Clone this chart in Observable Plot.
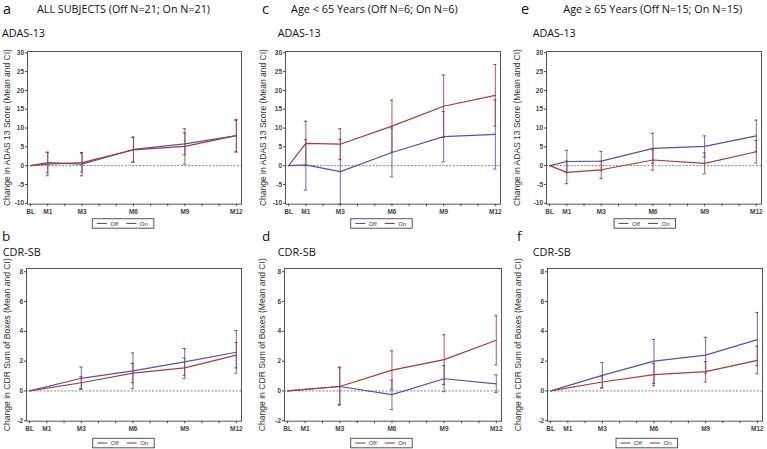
<!DOCTYPE html>
<html><head><meta charset="utf-8">
<script src="https://cdn.jsdelivr.net/npm/d3@7"></script>
<script src="https://cdn.jsdelivr.net/npm/@observablehq/plot@0.6"></script>
<style>
html,body{margin:0;padding:0;background:#fff;}
#root{position:relative;width:767px;height:449px;overflow:hidden;background:#fff;}
</style></head><body><div id="root"></div>
<script>
// ---------- data ----------
const monthTicks = [0,1,2,3,4,5,6,7,8,9,10,11,12];
const visitMonths = [0,1,3,6,9,12];
const visitLabels = ["BL","M1","M3","M6","M9","M12"];
const seriesNames = ["Off","On"];
const seriesColors = ["#5252aa","#a63b3b"];
const adasTicks = [-10,-5,0,5,10,15,20,25,30];
const cdrTicks = [-2,0,2,4,6,8];

const panelLetters = ["a","c","e","b","d","f"];
const groupTitles = ["ALL SUBJECTS (Off N=21; On N=21)","Age < 65 Years (Off N=6; On N=6)","Age \u2265 65 Years (Off N=15; On N=15)"];
const measureTitles = ["ADAS-13","CDR-SB"];
const yLabels = ["Change in ADAS 13 Score (Mean and CI)","Change in CDR Sum of Boxes (Mean and CI)"];

// (a) ADAS-13, all subjects
const aOffMean = [0, 0.8, 0.4, 4.3, 5.8, 8.0];
const aOffLo   = [null, -1.9, -2.7, 1.0, 2.9, 3.7];
const aOffHi   = [null, 3.5, 3.5, 7.6, 8.7, 12.3];
const aOnMean  = [0, 0.4, 0.8, 4.2, 5.1, 8.0];
const aOnLo    = [null, -2.7, -1.7, 0.9, 0.4, 3.6];
const aOnHi    = [null, 3.6, 3.3, 7.5, 9.8, 12.0];
// (c) ADAS-13, age < 65
const cOffMean = [0, 0.2, -1.6, 3.5, 7.7, 8.3];
const cOffLo   = [null, -6.5, -10.2, -3.0, 1.0, -0.9];
const cOffHi   = [null, 6.9, 7.0, 10.0, 14.4, 17.5];
const cOnMean  = [0, 5.9, 5.7, 10.5, 15.8, 18.7];
const cOnLo    = [null, 0.0, 1.6, 3.6, 7.5, 10.5];
const cOnHi    = [null, 11.8, 9.8, 17.4, 24.1, 26.9];
// (e) ADAS-13, age >= 65
const eOffMean = [0, 1.1, 1.2, 4.6, 5.1, 7.9];
const eOffLo   = [null, -1.9, -1.4, 0.6, 2.3, 3.7];
const eOffHi   = [null, 4.1, 3.8, 8.6, 7.9, 12.1];
const eOnMean  = [0, -1.8, -1.1, 1.5, 0.6, 3.7];
const eOnLo    = [null, -4.8, -3.4, -1.2, -2.2, 0.7];
const eOnHi    = [null, 1.2, 1.2, 4.2, 3.4, 6.7];
// (b) CDR-SB, all subjects (no M1 visit)
const bOffMean = [0, null, 0.85, 1.35, 1.95, 2.6];
const bOffLo   = [null, null, 0.1, 0.15, 1.05, 1.2];
const bOffHi   = [null, null, 1.6, 2.55, 2.85, 4.05];
const bOnMean  = [0, null, 0.55, 1.2, 1.55, 2.4];
const bOnLo    = [null, null, 0.15, 0.55, 0.85, 1.55];
const bOnHi    = [null, null, 0.95, 1.85, 2.2, 3.25];
// (d) CDR-SB, age < 65
const dOffMean = [0, null, 0.3, -0.25, 0.82, 0.48];
const dOffLo   = [null, null, -0.9, -1.25, -0.05, -0.1];
const dOffHi   = [null, null, 1.55, 0.72, 1.7, 1.08];
const dOnMean  = [0, null, 0.3, 1.4, 2.1, 3.4];
const dOnLo    = [null, null, -0.95, 0.12, 0.43, 1.75];
const dOnHi    = [null, null, 1.6, 2.7, 3.77, 5.05];
// (f) CDR-SB, age >= 65
const fOffMean = [0, null, 1.05, 2.0, 2.4, 3.45];
const fOffLo   = [null, null, 0.2, 0.5, 1.2, 1.7];
const fOffHi   = [null, null, 1.9, 3.45, 3.6, 5.27];
const fOnMean  = [0, null, 0.6, 1.1, 1.3, 2.05];
const fOnLo    = [null, null, 0.2, 0.35, 0.6, 1.15];
const fOnHi    = [null, null, 1.0, 1.85, 1.97, 3.0];

// ---------- helpers ----------
function rowsOf(series, mean, lo, hi) {
  const out = [];
  visitMonths.forEach((m, i) => {
    if (mean[i] == null) return;
    out.push({m, v: mean[i], lo: lo[i], hi: hi[i], s: series});
  });
  return out;
}
const panels = [
  {data: [rowsOf("Off", aOffMean, aOffLo, aOffHi), rowsOf("On", aOnMean, aOnLo, aOnHi)], kind: 0, fx: [27, 241], fy: [51.3, 204]},
  {data: [rowsOf("Off", cOffMean, cOffLo, cOffHi), rowsOf("On", cOnMean, cOnLo, cOnHi)], kind: 0, fx: [285, 500], fy: [51.3, 204]},
  {data: [rowsOf("Off", eOffMean, eOffLo, eOffHi), rowsOf("On", eOnMean, eOnLo, eOnHi)], kind: 0, fx: [546, 761], fy: [51.3, 204]},
  {data: [rowsOf("Off", bOffMean, bOffLo, bOffHi), rowsOf("On", bOnMean, bOnLo, bOnHi)], kind: 1, fx: [26, 241], fy: [268.3, 421]},
  {data: [rowsOf("Off", dOffMean, dOffLo, dOffHi), rowsOf("On", dOnMean, dOnLo, dOnHi)], kind: 1, fx: [284, 501], fy: [268.3, 421]},
  {data: [rowsOf("Off", fOffMean, fOffLo, fOffHi), rowsOf("On", fOnMean, fOnLo, fOnHi)], kind: 1, fx: [547, 762], fy: [268.3, 421]},
];

const root = document.getElementById("root");
const ML = 22, MR = 4, MT = 4, MB = 16;

panels.forEach(p => {
  const rows = p.data.flat();
  const ci = rows.filter(d => d.lo != null);
  const W = (p.fx[1] - p.fx[0]) + ML + MR;
  const H = (p.fy[1] - p.fy[0]) + MT + MB;
  const chart = Plot.plot({
    width: W, height: H,
    marginLeft: ML, marginRight: MR, marginTop: MT, marginBottom: MB,
    style: {background: "transparent", fontFamily: "'Liberation Sans', Arial, sans-serif", fontSize: "6.5px", fontWeight: "bold", color: "#444", overflow: "visible"},
    x: {domain: [-0.18, 12.3], ticks: monthTicks, tickSize: 2.5, tickPadding: 3,
        tickFormat: d => { const i = visitMonths.indexOf(d); return i >= 0 ? visitLabels[i] : ""; }, label: null},
    y: p.kind === 0
      ? {domain: [-10.25, 30.35], ticks: adasTicks, tickSize: 2, tickPadding: 1.5, tickFormat: d => String(d), label: null}
      : {domain: [-2.03, 8.22], ticks: cdrTicks, tickSize: 2, tickPadding: 1.5, tickFormat: d => String(d), label: null},
    color: {domain: seriesNames, range: seriesColors},
    marks: [
      Plot.ruleY([0], {stroke: "#666", strokeWidth: 0.8, strokeDasharray: "2,1.5"}),
      Plot.ruleX(ci, {x: "m", y1: "lo", y2: "hi", stroke: "s", strokeWidth: 1, strokeOpacity: 0.85}),
      Plot.ruleY(ci, {y: "lo", x1: d => d.m - 0.09, x2: d => d.m + 0.09, stroke: "s", strokeWidth: 1}),
      Plot.ruleY(ci, {y: "hi", x1: d => d.m - 0.09, x2: d => d.m + 0.09, stroke: "s", strokeWidth: 1}),
      Plot.line(rows, {x: "m", y: "v", z: "s", stroke: "s", strokeWidth: 1.2}),
      Plot.frame({stroke: "#555", strokeWidth: 1})
    ]
  });
  chart.style.position = "absolute";
  chart.style.left = (p.fx[0] - ML) + "px";
  chart.style.top = (p.fy[0] - MT) + "px";
  chart.style.maxWidth = "none";
  root.appendChild(chart);
});

// ---------- text overlay ----------
const ov = d3.select(root).append("svg")
  .attr("width", 767).attr("height", 449)
  .style("position", "absolute").style("left", "0px").style("top", "0px")
  .style("pointer-events", "none");

const humanist = "'Open Sans', 'Noto Sans', sans-serif";
const letterPos = [[3, 13.5], [262, 13.5], [521, 13.5], [2, 240.5], [262, 241], [517, 241]];
panelLetters.forEach((t, i) => {
  ov.append("text").attr("x", letterPos[i][0]).attr("y", letterPos[i][1])
    .attr("font-family", humanist).attr("font-size", i < 3 ? 14.5 : 13.5).attr("fill", "#111").text(t);
});
const titlePos = [[37, 173], [291, 166.7], [563.3, 179]];
groupTitles.forEach((t, i) => {
  ov.append("text").attr("x", titlePos[i][0]).attr("y", 13)
    .attr("font-family", humanist).attr("font-size", 11.5).attr("fill", "#111")
    .attr("textLength", titlePos[i][1]).attr("lengthAdjust", "spacingAndGlyphs").text(t);
});
const measX = [[2, 277.7, 532.7], [2.7, 277.7, 532.7]];
const measY = [36.7, 256];
const measW = [43, 38];
[0, 1].forEach(r => measX[r].forEach(x => {
  ov.append("text").attr("x", x).attr("y", measY[r])
    .attr("font-family", humanist).attr("font-size", r === 0 ? 11 : 10.5).attr("fill", "#111")
    .attr("textLength", measW[r]).attr("lengthAdjust", "spacingAndGlyphs").text(measureTitles[r]);
}));
const yLabX = [[9.5, 265.5, 520], [9.5, 265, 520.5]];
const yLabCY = [127.6, 344.7];
const yLabW = [157, 173];
[0, 1].forEach(r => yLabX[r].forEach(x => {
  ov.append("text").attr("transform", `translate(${x},${yLabCY[r]}) rotate(-90)`)
    .attr("text-anchor", "middle")
    .attr("font-family", "'Liberation Sans', Arial, sans-serif").attr("font-size", 9).attr("fill", "#333")
    .attr("textLength", yLabW[r]).attr("lengthAdjust", "spacingAndGlyphs").text(yLabels[r]);
}));
// legends
const legendPos = [[92.3, 218.7], [350.7, 218.7], [614, 218.7], [92.7, 438.3], [350.7, 438.3], [616, 438.3]];
legendPos.forEach(([x, y]) => {
  const g = ov.append("g").attr("transform", `translate(${x},${y})`);
  g.append("rect").attr("x", 0).attr("y", 0).attr("width", 61.5).attr("height", 9.5)
    .attr("fill", "#fff").attr("stroke", "#555").attr("stroke-width", 1);
  seriesNames.forEach((s, i) => {
    const ox = 4.5 + i * 29.5;
    g.append("line").attr("x1", ox).attr("x2", ox + 10).attr("y1", 4.75).attr("y2", 4.75)
      .attr("stroke", seriesColors[i]).attr("stroke-width", 1.1);
    g.append("text").attr("x", ox + 13.5).attr("y", 7)
      .attr("font-family", "'Liberation Sans', Arial, sans-serif").attr("font-size", 6).attr("fill", "#333").text(s);
  });
});
</script></body></html>
